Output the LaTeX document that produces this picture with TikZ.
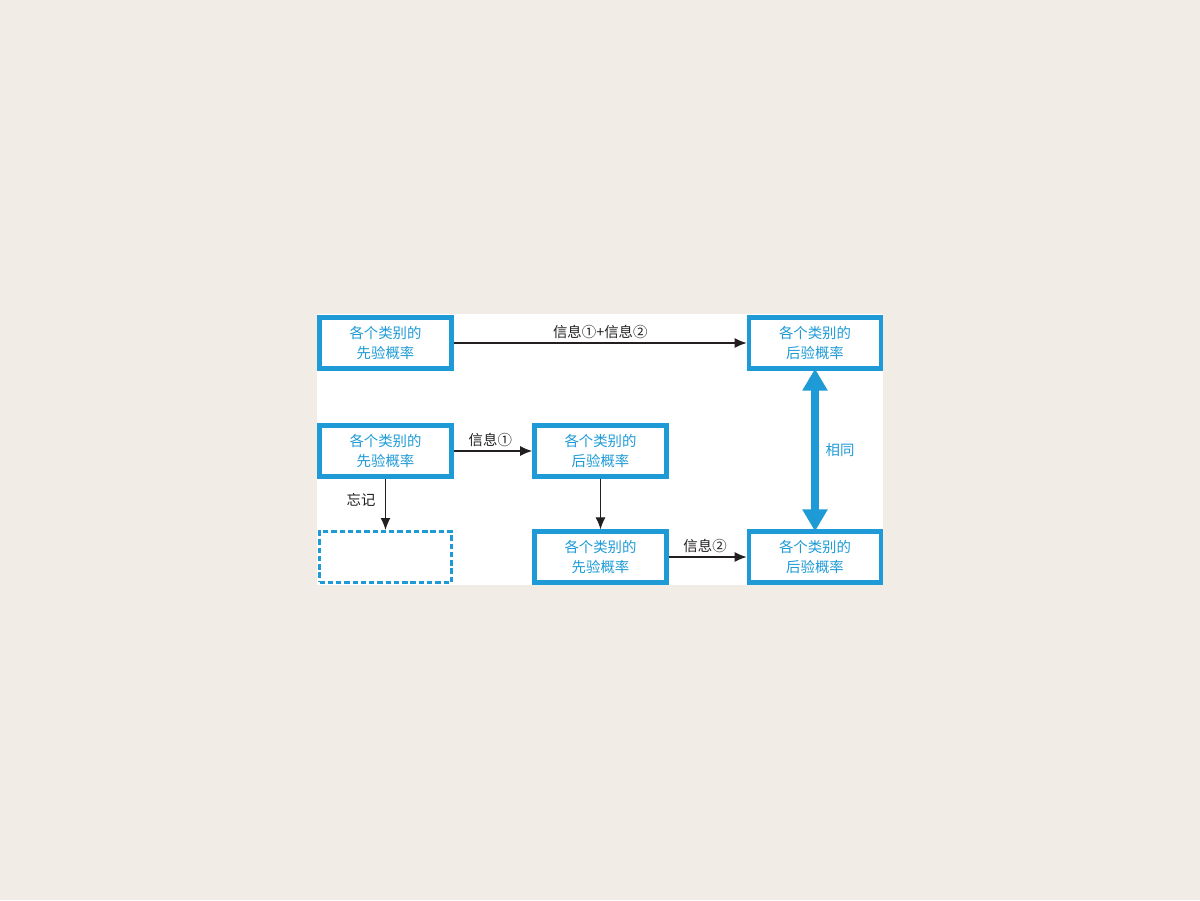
\documentclass[tikz,border=0pt]{standalone}
\usepackage{fontspec}
\setmainfont{Noto Sans CJK SC}
\usepackage{tikz}
\usetikzlibrary{arrows.meta}

\definecolor{paper}{RGB}{241,237,230}
\definecolor{probblue}{RGB}{30,155,215}
\definecolor{inkblack}{RGB}{35,31,32}

\begin{document}
\begin{tikzpicture}[x=0.75pt,y=0.75pt,yscale=-1,xscale=1,
  probbox/.style={draw=probblue,line width=3.5pt,fill=white,text=probblue,
    minimum width=99pt,minimum height=38pt,align=center,inner sep=0pt,
    font=\fontsize{10.8pt}{15pt}\selectfont},
  forgotbox/.style={probbox,dashed,dash pattern=on 4pt off 2.2pt,line width=2.5pt},
  flow/.style={draw=inkblack,line width=1pt,-{Latex[length=9pt,width=7.5pt]}},
  flowlabel/.style={text=inkblack,inner sep=1pt,font=\fontsize{10.8pt}{13pt}\selectfont},
  samearrow/.style={draw=probblue,line width=6pt,
    {Triangle[length=16.5pt,width=18pt]}-{Triangle[length=16.5pt,width=18pt]}}]

%Shape: Page [id:paper]
\useasboundingbox[fill=paper] (0,0) rectangle (1200,900);
%Shape: Panel [id:panel]
\fill[white] (317,314) rectangle (883,585);

% Boxes
\node[probbox] (priorTop) at (385.5,343) {各个类别的\\先验概率};
\node[probbox] (postTop) at (815,343) {各个类别的\\后验概率};
\node[probbox] (priorOne) at (385.5,451) {各个类别的\\先验概率};
\node[probbox] (postOne) at (600.5,451) {各个类别的\\后验概率};
\node[forgotbox] (forgot) at (385.5,557) {};
\node[probbox] (priorTwo) at (600.5,557) {各个类别的\\先验概率};
\node[probbox] (postTwo) at (815,557) {各个类别的\\后验概率};

%Straight Lines
\draw[flow] (priorTop) -- node[flowlabel,above=1.5pt] (lblBoth) {信息①+信息②} (postTop);
\draw[flow] (priorOne) -- node[flowlabel,above=1.5pt,xshift=-2pt] (lblOne) {信息①} (postOne);
\draw[flow] (priorOne) -- node[flowlabel,left=6pt,yshift=3pt] (lblForget) {忘记} (forgot);
\draw[flow,line width=0.8pt] (postOne) -- (priorTwo);
\draw[flow] (priorTwo) -- node[flowlabel,above=1.5pt,xshift=-2pt] (lblTwo) {信息②} (postTwo);

%Double Arrow
\draw[samearrow] ([yshift=-1.5pt]postTop.south) -- node[right=4pt,text=probblue,inner sep=1pt,
  font=\fontsize{10.8pt}{13pt}\selectfont] (lblSame) {相同} ([yshift=1.5pt]postTwo.north);

\end{tikzpicture}
\end{document}
